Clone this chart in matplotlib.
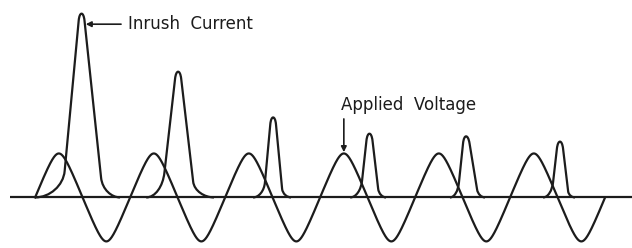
import numpy as np
import matplotlib
matplotlib.use('Agg')
from matplotlib import pyplot as plt
from matplotlib.path import Path
from matplotlib.patches import PathPatch

# voltage: per-unit, x axis in electrical degrees
voltage_amp = 1.0
voltage_cycles = 6
voltage_peakiness = 0.88  # drawn wave is a sine with straightened flanks

# inrush current pulses (degrees / per-unit)
pulse_start = [0, 421, 826, 1194, 1572, 1925]
rise_knee_x = [112, 490, 871, 1239, 1606, 1963]
rise_knee_y = [0.60, 0.56, 0.34, 0.38, 0.33, 0.35]
peak_x = [176, 542, 902, 1267, 1633, 1989]
peak_y = [4.18, 2.86, 1.82, 1.45, 1.39, 1.27]
fall_knee_x = [250, 599, 936, 1300, 1675, 2020]
fall_knee_y = [0.45, 0.36, 0.20, 0.20, 0.18, 0.14]
pulse_end = [322, 678, 970, 1330, 1705, 2046]

labels = ['Inrush  Current', 'Applied  Voltage']

INK = '#1c1c1c'
LW = 1.6


def pulse_path(s, k1, p, k2, e, hw=7.5, cap=0.16):
    k1 = np.array(k1, float)
    k2 = np.array(k2, float)
    pl = np.array([p[0] - hw, p[1] + cap / 3])
    pr = np.array([p[0] + hw, p[1] + cap / 3])
    d1 = pl - k1
    d2 = k2 - pr
    # points where the straight flanks hand over to the rounded top
    a = k1 + d1 * (p[1] - cap - k1[1]) / d1[1]
    b = pr + d2 * (pr[1] - (p[1] - cap)) / -d2[1]
    verts = [
        (s, 0), (s + 0.5 * (k1[0] - s), 0), tuple(k1 - d1 * 0.55 * k1[1] / d1[1]), tuple(k1),
        tuple(a),
        tuple(pl), tuple(pr), tuple(b),
        tuple(k2),
        tuple(k2 + d2 * 0.6 * k2[1] / -d2[1]), (e - 0.45 * (e - k2[0]), 0), (e, 0),
    ]
    codes = [Path.MOVETO, Path.CURVE4, Path.CURVE4, Path.CURVE4,
             Path.LINETO,
             Path.CURVE4, Path.CURVE4, Path.CURVE4,
             Path.LINETO,
             Path.CURVE4, Path.CURVE4, Path.CURVE4]
    return Path(verts, codes)


fig = plt.figure(figsize=(6.32, 2.48), dpi=100)
ax = fig.add_axes([0, 0, 1, 1])
ax.set_xlim(-133, 2262)
ax.set_ylim(-1.15, 4.49)
ax.axis('off')

# time axis
ax.plot([-95, 2300], [0, 0], color=INK, lw=LW, solid_capstyle='butt')

deg = np.linspace(0, 360 * voltage_cycles, 2000)
k = voltage_peakiness
v = voltage_amp * np.arcsin(k * np.sin(np.radians(deg))) / np.arcsin(k)
ax.plot(deg, v, color=INK, lw=LW)

for i in range(len(peak_x)):
    path = pulse_path(pulse_start[i],
                      (rise_knee_x[i], rise_knee_y[i]),
                      (peak_x[i], peak_y[i]),
                      (fall_knee_x[i], fall_knee_y[i]),
                      pulse_end[i])
    ax.add_patch(PathPatch(path, fill=False, edgecolor=INK, lw=LW,
                           joinstyle='round'))

arrow = dict(arrowstyle='-|>', color=INK, lw=1.2, mutation_scale=8,
             shrinkA=3, shrinkB=0)
ax.annotate(labels[0], xy=(192, 3.94), xytext=(352, 3.94),
            ha='left', va='center', fontsize=12, color=INK,
            arrowprops=arrow)
ax.text(1159, 2.10, labels[1], ha='left', va='center',
        fontsize=12, color=INK)
ax.annotate('', xy=(1170, 1.03), xytext=(1170, 1.88), arrowprops=arrow)

fig.savefig('out.png', dpi=100)
